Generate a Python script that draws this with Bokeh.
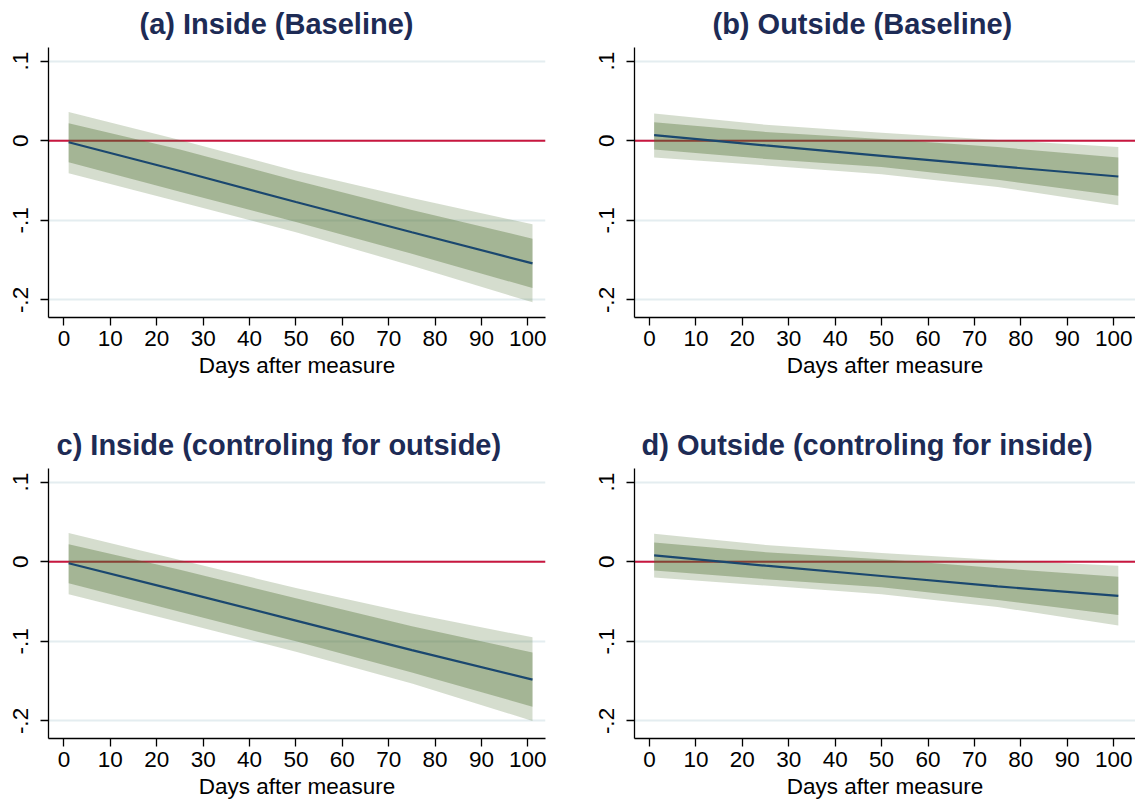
from bokeh.plotting import figure
from bokeh.models import Span, FixedTicker, Range1d
from bokeh.layouts import column, row
from bokeh.embed import file_html
from bokeh.resources import INLINE

# ---------------- data ----------------
days = [1, 25, 50, 75, 101]

titles = ["(a) Inside (Baseline)", "(b) Outside (Baseline)",
          "c) Inside (controling for outside)", "d) Outside (controling for inside)"]

a_line = [-0.002, -0.038, -0.077, -0.115, -0.154]
a_outer_hi = [0.036, 0.001, -0.038, -0.072, -0.105]
a_outer_lo = [-0.041, -0.077, -0.115, -0.157, -0.203]
a_inner_hi = [0.022, -0.011, -0.050, -0.087, -0.123]
a_inner_lo = [-0.027, -0.064, -0.102, -0.142, -0.185]

b_line = [0.007, -0.006, -0.019, -0.032, -0.045]
b_outer_hi = [0.034, 0.020, 0.010, 0.001, -0.008]
b_outer_lo = [-0.021, -0.031, -0.042, -0.058, -0.081]
b_inner_hi = [0.023, 0.011, 0.002, -0.008, -0.021]
b_inner_lo = [-0.011, -0.023, -0.033, -0.049, -0.069]

c_line = [-0.002, -0.037, -0.074, -0.111, -0.148]
c_outer_hi = [0.036, 0.002, -0.033, -0.065, -0.095]
c_outer_lo = [-0.041, -0.076, -0.113, -0.153, -0.200]
c_inner_hi = [0.022, -0.010, -0.046, -0.081, -0.114]
c_inner_lo = [-0.027, -0.063, -0.100, -0.139, -0.182]

d_line = [0.008, -0.005, -0.018, -0.031, -0.043]
d_outer_hi = [0.035, 0.021, 0.011, 0.002, -0.005]
d_outer_lo = [-0.020, -0.030, -0.041, -0.057, -0.080]
d_inner_hi = [0.024, 0.012, 0.003, -0.008, -0.019]
d_inner_lo = [-0.011, -0.022, -0.032, -0.048, -0.067]

x_ticks = [0, 10, 20, 30, 40, 50, 60, 70, 80, 90, 100]
y_ticks = [-0.2, -0.1, 0.0, 0.1]
y_tick_labels = {-0.2: "-.2", -0.1: "-.1", 0.0: "0", 0.1: ".1"}
x_label = "Days after measure"

# ---------------- style ----------------
FONT = "Liberation Sans"
TITLE_COLOR = "#1d2b55"
GREEN = "#4a6b2a"
NAVY = "#1a476f"
RED = "#c8173f"
GRID = "#e4edf0"


def make_panel(title, line, ohi, olo, ihi, ilo, width, height, bl, br, bt, bb,
               xr, title_offset):
    p = figure(width=width, height=height, output_backend="svg",
               toolbar_location=None,
               x_range=Range1d(xr[0], xr[1]), y_range=Range1d(-0.222, 0.117),
               min_border_left=bl, min_border_right=br,
               min_border_top=bt, min_border_bottom=bb)
    p.outline_line_color = None
    p.background_fill_color = "white"
    p.border_fill_color = "white"

    p.title.text = title
    p.title.align = "left"
    p.title.vertical_align = "top"
    p.title.offset = title_offset
    p.title.text_font = FONT
    p.title.text_font_size = "29px"
    p.title.text_font_style = "bold"
    p.title.text_color = TITLE_COLOR
    p.title.standoff = 11

    p.xgrid.visible = False
    p.ygrid.grid_line_color = GRID
    p.ygrid.grid_line_width = 2

    p.xaxis.ticker = FixedTicker(ticks=x_ticks)
    p.yaxis.ticker = FixedTicker(ticks=y_ticks)
    p.yaxis.major_label_overrides = y_tick_labels
    p.yaxis.major_label_orientation = "vertical"
    p.xaxis.axis_label = x_label

    for ax in (p.xaxis, p.yaxis):
        ax.axis_line_color = "black"
        ax.axis_line_width = 1.3
        ax.major_tick_line_color = "black"
        ax.major_tick_line_width = 1.3
        ax.major_tick_in = 0
        ax.major_tick_out = 8
        ax.minor_tick_line_color = None
        ax.major_label_text_font = FONT
        ax.major_label_text_font_size = "22.5px"
        ax.major_label_text_color = "black"
        ax.axis_label_text_font = FONT
        ax.axis_label_text_font_size = "22.5px"
        ax.axis_label_text_font_style = "normal"
        ax.axis_label_text_color = "black"
    p.xaxis.major_label_standoff = 5
    p.xaxis.axis_label_standoff = 4
    p.yaxis.major_label_standoff = 12

    zero = Span(location=0, dimension="width", line_color=RED, line_width=2,
                level="underlay")
    p.add_layout(zero)

    p.varea(x=days, y1=olo, y2=ohi, fill_color=GREEN, fill_alpha=0.23)
    p.varea(x=days, y1=ilo, y2=ihi, fill_color=GREEN, fill_alpha=0.35)
    p.line(days, line, line_color=NAVY, line_width=2.2)
    return p


pa = make_panel(titles[0], a_line, a_outer_hi, a_outer_lo, a_inner_hi, a_inner_lo,
                567, 421, 48, 22, 47, 104, (-3.34, 103.8), 91)
pb = make_panel(titles[1], b_line, b_outer_hi, b_outer_lo, b_inner_hi, b_inner_lo,
                568, 421, 67, 0, 47, 104, (-3.23, 104.7), 78)
pc = make_panel(titles[2], c_line, c_outer_hi, c_outer_lo, c_inner_hi, c_inner_lo,
                567, 382, 48, 22, 47, 65, (-3.34, 103.8), 8)
pd = make_panel(titles[3], d_line, d_outer_hi, d_outer_lo, d_inner_hi, d_inner_lo,
                568, 382, 67, 0, 47, 65, (-3.23, 104.7), 7)

layout = column(row(pa, pb), row(pc, pd))

open("out.html", "w").write(file_html(layout, INLINE))
